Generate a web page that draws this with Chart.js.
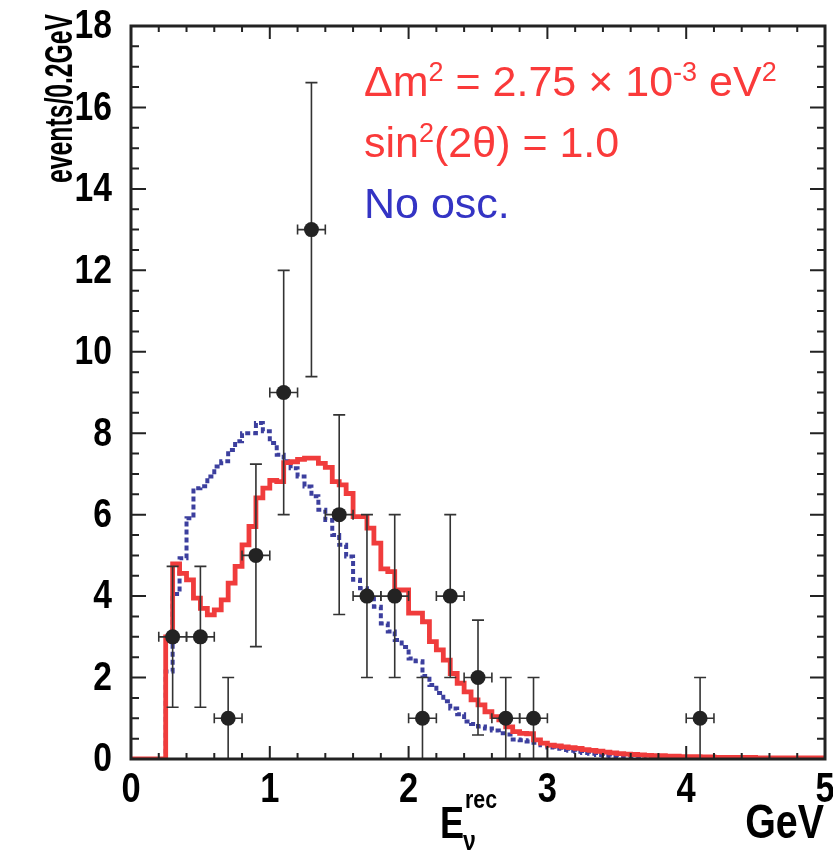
<!DOCTYPE html>
<html>
<head>
<meta charset="utf-8">
<script src="https://cdn.jsdelivr.net/npm/chart.js@4.4.1/dist/chart.umd.min.js"></script>
<style>
  html, body { margin: 0; padding: 0; background: #fff; }
  #wrap { width: 833px; height: 854px; }
</style>
</head>
<body>
<div id="wrap"><canvas id="spectrum" width="833" height="854"></canvas></div>
<script>
// MC histograms use 0.05 GeV bins starting at 0 GeV (100 bins up to 5 GeV)
const BIN_WIDTH = 0.05;

// oscillated prediction (dm2 = 2.75e-3, sin2 2theta = 1.0)
const oscPrediction = [
    0, 0, 0, 0, 0, 3.00, 4.79, 4.56, 4.40, 3.95,
    3.70, 3.54, 3.66, 3.91, 4.32, 4.73, 5.26, 5.71, 6.41, 6.65,
    6.84, 6.81, 7.28, 7.30, 7.36, 7.39, 7.39, 7.26, 7.16, 6.81,
    6.73, 6.52, 5.95, 5.95, 5.67, 5.30, 4.67, 4.60, 4.15, 4.15,
    3.58, 3.58, 3.37, 2.88, 2.68, 2.43, 2.10, 1.86, 1.65, 1.45,
    1.33, 1.16, 1.04, 0.96, 0.79, 0.67, 0.63, 0.62, 0.47, 0.39,
    0.34, 0.32, 0.30, 0.28, 0.26, 0.23, 0.21, 0.19, 0.17, 0.15,
    0.13, 0.12, 0.11, 0.10, 0.09, 0.08, 0.08, 0.07, 0.07, 0.06,
    0.06, 0.06, 0.05, 0.05, 0.04, 0.04, 0.04, 0.04, 0.04, 0.04,
    0.03, 0.03, 0.03, 0.03, 0.03, 0.03, 0.03, 0.03, 0.03, 0.03
];

// no oscillation prediction
const noOscPrediction = [
    0, 0, 0, 0, 0, 2.15, 4.05, 4.93, 5.91, 6.65,
    6.70, 6.94, 7.18, 7.31, 7.59, 7.80, 8.00, 8.00, 8.25, 8.05,
    7.76, 7.47, 7.31, 7.14, 6.94, 6.69, 6.45, 6.12, 5.87, 5.50,
    5.26, 4.97, 4.40, 4.19, 4.00, 3.74, 3.33, 3.13, 2.92, 2.75,
    2.47, 2.40, 2.04, 1.82, 1.62, 1.42, 1.24, 1.10, 0.92, 0.86,
    0.80, 0.75, 0.70, 0.63, 0.60, 0.48, 0.46, 0.43, 0.40, 0.34,
    0.28, 0.25, 0.22, 0.20, 0.18, 0.15, 0.13, 0.10, 0.08, 0.06,
    0.05, 0.04, 0.03, 0.02, 0, null, null, null, null, null,
    null, null, null, null, null, null, null, null, null, null,
    null, null, null, null, null, null, null, null, null, null
];

// observed events (0.2 GeV bins)
const dataEnergy = [0.3, 0.5, 0.7, 0.9, 1.1, 1.3, 1.5, 1.7, 1.9, 2.1, 2.3, 2.5, 2.7, 2.9, 4.1];
const dataEvents = [3, 3, 1, 5, 9, 13, 6, 4, 4, 1, 4, 2, 1, 1, 1];
const dataErrors = [1.73, 1.73, 1, 2.24, 3, 3.61, 2.45, 2, 2, 1, 2, 1.41, 1, 1, 1];
const dataHalfWidth = [0.1, 0.1, 0.1, 0.1, 0.1, 0.1, 0.1, 0.1, 0.1, 0.1, 0.1, 0.1, 0.1, 0.1, 0.1];

const xTickValues = [0, 1, 2, 3, 4, 5];
const xTickLabels = ['0', '1', '2', '3', '4', '5'];
const yTickValues = [0, 2, 4, 6, 8, 10, 12, 14, 16, 18];
const yTickLabels = ['0', '2', '4', '6', '8', '10', '12', '14', '16', '18'];

const RED = '#f03c3c';
const RED_TEXT = '#fa3a3a';
const BLUE = '#3c3f9e';
const BLUE_TEXT = '#3434c4';
const INK = '#222';
const SANS = "'Liberation Sans', Arial, sans-serif";
const SQUEEZE = 0.82; // ROOT's bold face is narrower than Liberation Sans Bold

function histPoints(values) {
    const pts = values.map((v, i) => ({ x: i * BIN_WIDTH, y: v }));
    pts.push({ x: values.length * BIN_WIDTH, y: values[values.length - 1] });
    return pts;
}

// condensed bold text
function narrowText(ctx, text, x, y, size, align, baseline, squeeze) {
    ctx.save();
    ctx.translate(x, y);
    ctx.scale(squeeze || SQUEEZE, 1);
    ctx.font = 'bold ' + size + 'px ' + SANS;
    ctx.fillStyle = '#000';
    ctx.textAlign = align;
    ctx.textBaseline = baseline;
    ctx.fillText(text, 0, 0);
    ctx.restore();
}

function drawErrorBars(chart) {
    const ctx = chart.ctx;
    const xs = chart.scales.x, ys = chart.scales.y;
    ctx.save();
    ctx.strokeStyle = '#333';
    ctx.lineWidth = 1.6;
    dataEnergy.forEach((e, i) => {
        const cx = xs.getPixelForValue(e);
        const cy = ys.getPixelForValue(dataEvents[i]);
        const x0 = xs.getPixelForValue(e - dataHalfWidth[i]);
        const x1 = xs.getPixelForValue(e + dataHalfWidth[i]);
        const yLo = ys.getPixelForValue(Math.max(0, dataEvents[i] - dataErrors[i]));
        const yHi = ys.getPixelForValue(dataEvents[i] + dataErrors[i]);
        ctx.beginPath();
        ctx.moveTo(x0, cy); ctx.lineTo(x1, cy);
        ctx.moveTo(x0, cy - 5); ctx.lineTo(x0, cy + 5);
        ctx.moveTo(x1, cy - 5); ctx.lineTo(x1, cy + 5);
        ctx.moveTo(cx, yLo); ctx.lineTo(cx, yHi);
        ctx.moveTo(cx - 6, yHi); ctx.lineTo(cx + 6, yHi);
        if (dataEvents[i] - dataErrors[i] > 0) {
            ctx.moveTo(cx - 6, yLo); ctx.lineTo(cx + 6, yLo);
        }
        ctx.stroke();
    });
    ctx.restore();
}

// draws a run of text pieces: [text, font, dy]
function drawRich(ctx, x, y, parts, color) {
    ctx.fillStyle = color;
    ctx.textBaseline = 'alphabetic';
    ctx.textAlign = 'left';
    parts.forEach(([t, font, dy]) => {
        ctx.font = font;
        ctx.fillText(t, x, y + dy);
        x += ctx.measureText(t).width;
    });
}

const framePlugin = {
    id: 'frame',
    beforeDatasetDraw(chart, args) {
        if (args.index === 0) drawErrorBars(chart);
    },
    afterDraw(chart) {
        const ctx = chart.ctx;
        const a = chart.chartArea;
        const xs = chart.scales.x, ys = chart.scales.y;
        ctx.save();
        ctx.strokeStyle = INK;
        // minor / major ticks pointing inward on all sides
        ctx.lineWidth = 2;
        ctx.beginPath();
        for (let k = 0; k <= 25; k++) {
            const px = xs.getPixelForValue(k * 0.2);
            const len = (k % 5 === 0) ? 13 : 6;
            ctx.moveTo(px, a.bottom); ctx.lineTo(px, a.bottom - len);
            ctx.moveTo(px, a.top); ctx.lineTo(px, a.top + len);
        }
        for (let k = 0; k <= 36; k++) {
            const py = ys.getPixelForValue(k * 0.5);
            const len = (k % 4 === 0) ? 15 : 8;
            ctx.moveTo(a.left, py); ctx.lineTo(a.left + len, py);
            ctx.moveTo(a.right, py); ctx.lineTo(a.right - len, py);
        }
        ctx.stroke();
        ctx.lineWidth = 3;
        ctx.strokeRect(a.left, a.top, a.right - a.left, a.bottom - a.top);

        // tick labels
        xTickValues.forEach((v, i) => {
            narrowText(ctx, xTickLabels[i], xs.getPixelForValue(v), 790, 42, 'center', 'middle');
        });
        yTickValues.forEach((v, i) => {
            narrowText(ctx, yTickLabels[i], 112, ys.getPixelForValue(v) + 1, 41, 'right', 'middle');
        });

        // y axis title
        ctx.save();
        ctx.translate(72, 14);
        ctx.rotate(-Math.PI / 2);
        narrowText(ctx, 'events/0.2GeV', 0, 0, 38, 'right', 'alphabetic', 0.65);
        ctx.restore();

        // x axis title
        narrowText(ctx, 'E', 440, 838, 44, 'left', 'alphabetic');
        narrowText(ctx, 'rec', 465, 808, 26, 'left', 'alphabetic');
        narrowText(ctx, '\u03bd', 463, 850, 28, 'left', 'alphabetic');
        narrowText(ctx, 'GeV', 824, 838, 48, 'right', 'alphabetic');

        // annotations
        const big = '43px ' + SANS, sup = '27px ' + SANS;
        drawRich(ctx, 364, 96, [
            ['\u0394m', big, 0], ['2', sup, -15], [' = 2.75 \u00d7 10', big, 0],
            ['-3', sup, -15], [' eV', big, 0], ['2', sup, -15]
        ], RED_TEXT);
        drawRich(ctx, 364, 157, [
            ['sin', big, 0], ['2', sup, -15], ['(2\u03b8) = 1.0', big, 0]
        ], RED_TEXT);
        drawRich(ctx, 364, 218, [['No osc.', big, 0]], BLUE_TEXT);
        ctx.restore();
    }
};

new Chart(document.getElementById('spectrum'), {
    type: 'line',
    data: {
        datasets: [
            {
                type: 'scatter',
                label: 'data',
                data: dataEnergy.map((e, i) => ({ x: e, y: dataEvents[i] })),
                pointRadius: 7.5,
                pointBackgroundColor: '#232323',
                pointBorderWidth: 0,
                showLine: false,
                order: 0
            },
            {
                label: 'osc',
                data: histPoints(oscPrediction),
                borderColor: RED,
                borderWidth: 4.8,
                stepped: true,
                pointRadius: 0,
                fill: false,
                order: 1
            },
            {
                label: 'no osc',
                data: histPoints(noOscPrediction),
                borderColor: BLUE,
                borderWidth: 4,
                borderDash: [5, 3],
                stepped: true,
                pointRadius: 0,
                fill: false,
                spanGaps: false,
                order: 2
            }
        ]
    },
    options: {
        responsive: false,
        animation: false,
        devicePixelRatio: 1,
        layout: { padding: { top: 26, right: 8, left: 0, bottom: 0 } },
        plugins: { legend: { display: false }, tooltip: { enabled: false } },
        scales: {
            x: {
                type: 'linear',
                min: 0,
                max: 5,
                grid: { display: false, drawTicks: false },
                border: { display: false },
                ticks: { display: false },
                afterFit: (s) => { s.height = 95; }
            },
            y: {
                type: 'linear',
                min: 0,
                max: 18,
                grid: { display: false, drawTicks: false },
                border: { display: false },
                ticks: { display: false },
                afterFit: (s) => { s.width = 131; }
            }
        }
    },
    plugins: [framePlugin]
});
</script>
</body>
</html>
